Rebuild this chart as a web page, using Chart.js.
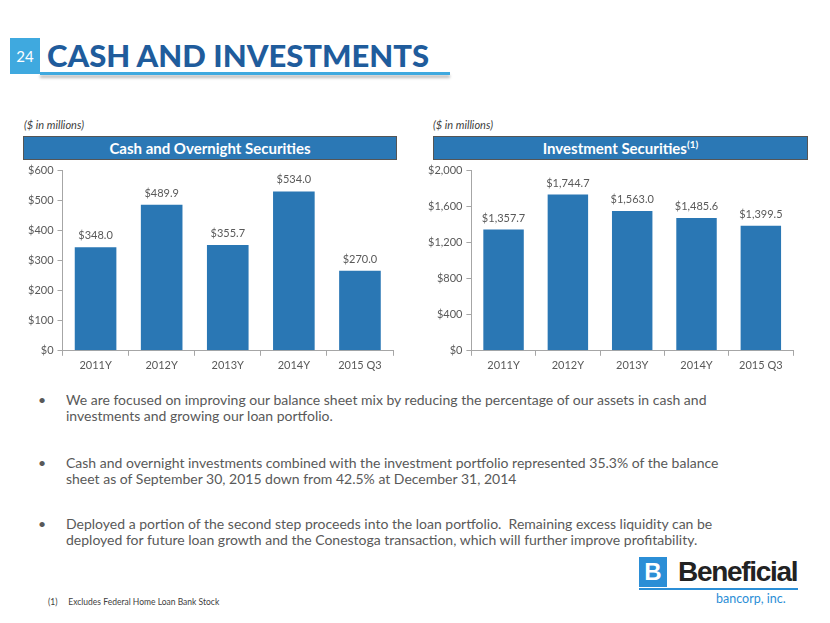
<!DOCTYPE html>
<html>
<head>
<meta charset="utf-8">
<script src="https://cdn.jsdelivr.net/npm/chart.js@4.4.0/dist/chart.umd.min.js"></script>
<style>
  body { margin: 0; width: 830px; height: 623px; background: #fff; position: relative; overflow: hidden; font-family: Lato, "Open Sans", sans-serif; }
  .abs { position: absolute; }
  #pageNum { left: 10px; top: 38px; width: 30px; height: 36px; background: #3FA9DF; color: #fff; font-size: 15px; line-height: 36px; text-align: center; }
  #title { left: 47px; top: 36px; font-size: 31px; font-weight: 900; color: #1F5C9C; white-space: nowrap; }
  #rule { left: 40px; top: 72px; width: 410px; height: 3px; background: #3FA9DF; box-shadow: 0 3px 3px #bbb; }
  .units { font-size: 11px; font-style: italic; color: #404040; }
  .hdr { height: 22px; background: #2B78B5; border: 1px solid #555; color: #fff; font-weight: bold; font-size: 15px; line-height: 22px; text-align: center; }
  .hdr sup { font-size: 10px; line-height: 0; }
  canvas { position: absolute; }
  .bullets { left: 38px; color: #595959; font-size: 14px; line-height: 16px; }
  .bullets div { position: relative; padding-left: 28px; white-space: nowrap; }
  .bullets div::before { content: "\2022"; position: absolute; left: 0; }
  #foot { left: 48px; top: 597px; font-size: 8.5px; color: #404040; white-space: nowrap; }
</style>
</head>
<body>
<div class="abs" id="pageNum">24</div>
<div class="abs" id="title">CASH AND INVESTMENTS</div>
<div class="abs" id="rule"></div>

<div class="abs units" style="left:24px; top:118px;">($ in millions)</div>
<div class="abs hdr" style="left:23px; top:136px; width:372px;">Cash and Overnight Securities</div>
<canvas id="cashChart" style="left:20px; top:160px;" width="385" height="215"></canvas>

<div class="abs units" style="left:433px; top:118px;">($ in millions)</div>
<div class="abs hdr" style="left:433px; top:136px; width:373px;">Investment Securities<sup>(1)</sup></div>
<canvas id="invChart" style="left:420px; top:160px;" width="385" height="215"></canvas>

<div class="abs bullets" style="top:392px;">
  <div>We are focused on improving our balance sheet mix by reducing the percentage of our assets in cash and<br>investments and growing our loan portfolio.</div>
</div>
<div class="abs bullets" style="top:455px;">
  <div>Cash and overnight investments combined with the investment portfolio represented 35.3% of the balance<br>sheet as of September 30, 2015 down from 42.5% at December 31, 2014</div>
</div>
<div class="abs bullets" style="top:516px;">
  <div>Deployed a portion of the second step proceeds into the loan portfolio.&nbsp; Remaining excess liquidity can be<br>deployed for future loan growth and the Conestoga transaction, which will further improve profitability.</div>
</div>

<div class="abs" style="left:639px; top:557px; width:28px; height:30px; background:#2B8ED6; color:#fff; font:bold 24px 'Liberation Sans', sans-serif; line-height:30px; text-align:center;">B</div>
<div class="abs" style="left:678px; top:556px; font:bold 28px 'Liberation Sans', sans-serif; color:#222; letter-spacing:-1.3px;">Beneficial</div>
<div class="abs" style="left:639px; top:588px; width:159px; height:2px; background:#2B8ED6;"></div>
<div class="abs" style="left:716px; top:591px; font-size:12.5px; color:#2B8ED6;">bancorp, inc.</div>

<div class="abs" id="foot">(1)&nbsp;&nbsp;&nbsp;&nbsp;&nbsp;Excludes Federal Home Loan Bank Stock</div>

<script>
var categories = ['2011Y', '2012Y', '2013Y', '2014Y', '2015 Q3'];
var cashValues = [348.0, 489.9, 355.7, 534.0, 270.0];
var investmentValues = [1357.7, 1744.7, 1563.0, 1485.6, 1399.5];
var cashTicks = { max: 600, step: 100 };
var investmentTicks = { max: 2000, step: 400 };

var barColor = '#2A77B4';
var textColor = '#595959';

function money(v) {
    return '$' + v.toLocaleString('en-US', { minimumFractionDigits: 1, maximumFractionDigits: 1 });
}

var valueLabels = {
    id: 'valueLabels',
    afterDatasetsDraw: function(chart) {
        var ctx = chart.ctx;
        var meta = chart.getDatasetMeta(0);
        var data = chart.data.datasets[0].data;
        ctx.save();
        ctx.fillStyle = textColor;
        ctx.font = '11px Lato, sans-serif';
        ctx.textAlign = 'center';
        ctx.textBaseline = 'bottom';
        meta.data.forEach(function(bar, i) {
            ctx.fillText(money(data[i]), bar.x, bar.y - 5);
        });
        ctx.restore();
    }
};

function drawChart(canvasId, values, tickSpec) {
    var ctx = document.getElementById(canvasId).getContext('2d');
    return new Chart(ctx, {
        type: 'bar',
        data: {
            labels: categories,
            datasets: [{
                data: values,
                backgroundColor: barColor,
                borderColor: '#ffffff',
                borderWidth: 1,
                categoryPercentage: 1.0,
                barPercentage: 0.66
            }]
        },
        options: {
            responsive: false,
            animation: false,
            layout: { padding: { top: 6, right: 12, left: 4, bottom: 0 } },
            plugins: { legend: { display: false }, tooltip: { enabled: false } },
            scales: {
                x: {
                    grid: { display: true, drawOnChartArea: false, tickLength: 5, color: '#a6a6a6' },
                    border: { color: '#a6a6a6' },
                    ticks: { color: textColor, font: { family: 'Lato', size: 11 }, maxRotation: 0, padding: 3 }
                },
                y: {
                    min: 0,
                    max: tickSpec.max,
                    grid: { display: true, drawOnChartArea: false, tickLength: 5, color: '#a6a6a6' },
                    border: { color: '#a6a6a6' },
                    ticks: {
                        stepSize: tickSpec.step,
                        color: textColor,
                        font: { family: 'Lato', size: 11 },
                        padding: 4,
                        callback: function(v) { return '$' + v.toLocaleString('en-US'); }
                    }
                }
            }
        },
        plugins: [valueLabels]
    });
}

drawChart('cashChart', cashValues, cashTicks);
drawChart('invChart', investmentValues, investmentTicks);
</script>
</body>
</html>
